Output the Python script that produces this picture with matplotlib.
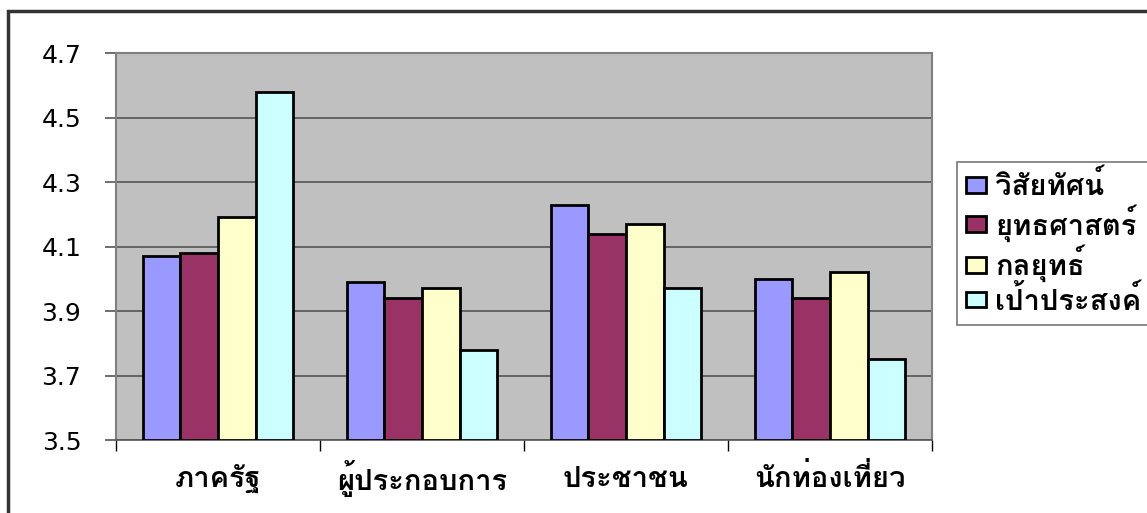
import matplotlib
matplotlib.use("Agg")
import matplotlib.pyplot as plt
from matplotlib.patches import Rectangle
import numpy as np

categories = ["ภาครัฐ", "ผู้ประกอบการ", "ประชาชน", "นักท่องเที่ยว"]
series_names = ["วิสัยทัศน์", "ยุทธศาสตร์", "กลยุทธ์", "เป้าประสงค์"]
vision = [4.07, 3.99, 4.23, 4.00]
strategy = [4.08, 3.94, 4.14, 3.94]
tactics = [4.19, 3.97, 4.17, 4.02]
goals = [4.58, 3.78, 3.97, 3.75]
colors = ["#9999FF", "#993366", "#FFFFCC", "#CCFFFF"]
yticks = [3.5, 3.7, 3.9, 4.1, 4.3, 4.5, 4.7]

thai_family = ["Loma", "Noto Sans Thai Looped", "DejaVu Sans"]

fig = plt.figure(figsize=(11.47, 5.13), dpi=100)
W, H = 1147, 513
ax = fig.add_axes([116 / W, (513 - 440) / H, (932 - 116) / W, (440 - 53) / H])
ax.set_facecolor("#C0C0C0")

data = [vision, strategy, tactics, goals]
x = np.arange(len(categories))
bw = 0.184
for i, (vals, c, name) in enumerate(zip(data, colors, series_names)):
    ax.bar(x + (i - 1.5) * bw, [v - 3.5 for v in vals], bw, bottom=3.5,
           color=c, edgecolor="black", linewidth=2, label=name, zorder=3)

ax.set_xlim(-0.5, 3.5)
ax.set_ylim(3.5, 4.7)
ax.set_yticks(yticks)
ax.set_yticklabels([f"{t:.1f}" for t in yticks], fontsize=18, family="DejaVu Sans")
ax.yaxis.grid(True, color="#555555", linewidth=1.2, zorder=1)
ax.set_xticks([-0.5, 0.5, 1.5, 2.5, 3.5])
ax.set_xticklabels([])
ax.tick_params(axis="x", length=8, color="black", width=1)
ax.tick_params(axis="y", length=8, color="#555555", width=1.2, pad=17)
for i, c in enumerate(categories):
    ax.text(i, -0.1, c, transform=ax.get_xaxis_transform(), ha="center", va="center",
            fontsize=21, family=thai_family, fontweight="bold")
for s in ["top", "right", "left"]:
    ax.spines[s].set_color("#808080")
    ax.spines[s].set_linewidth(1.5)
ax.spines["bottom"].set_color("#555555")
ax.spines["bottom"].set_linewidth(1.2)

leg = fig.legend(loc="upper left", bbox_to_anchor=(957 / W, 1 - 162 / H), borderaxespad=0,
                 frameon=True, fancybox=False, edgecolor="#555555",
                 prop={"family": thai_family, "size": 21, "weight": "bold"},
                 handlelength=0.7, handleheight=0.45,
                 handletextpad=0.3, borderpad=0.3, labelspacing=0.1)
leg.get_frame().set_linewidth(1.2)

# outer chart border
fig.patches.append(Rectangle((8 / W, -0.1), 1.2, 1 - 11 / H + 0.1, transform=fig.transFigure,
                             fill=False, edgecolor="#333333", linewidth=2.5))
fig.savefig("out.png", dpi=100)
